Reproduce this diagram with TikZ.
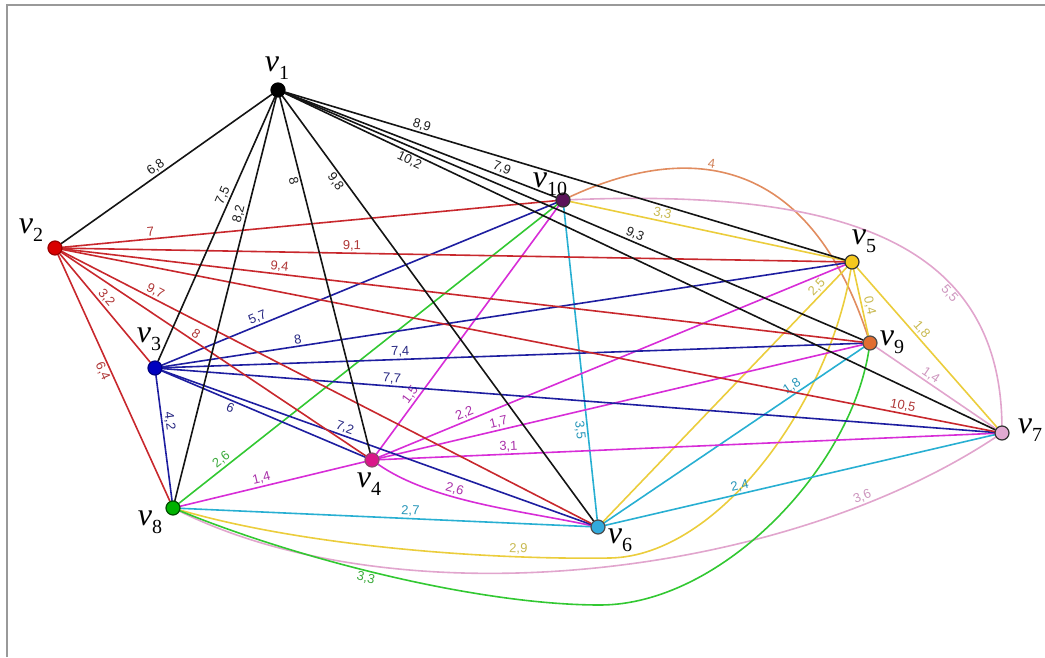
\documentclass[tikz,border=0pt]{standalone}
\usepackage{fontspec}
\usetikzlibrary{backgrounds}
\newfontfamily\vfont{Liberation Serif}
\newfontfamily\wfont{Liberation Sans}
\definecolor{cK}{RGB}{20,20,20}
\definecolor{cR}{RGB}{200,40,45}
\definecolor{cB}{RGB}{30,30,160}
\definecolor{cG}{RGB}{50,200,50}
\definecolor{cM}{RGB}{215,45,215}
\definecolor{cC}{RGB}{40,175,210}
\definecolor{cY}{RGB}{235,205,60}
\definecolor{cO}{RGB}{225,140,95}
\definecolor{cP}{RGB}{225,165,205}
\definecolor{lK}{RGB}{30,30,30}
\definecolor{lR}{RGB}{175,55,55}
\definecolor{lB}{RGB}{40,40,130}
\definecolor{lG}{RGB}{60,170,60}
\definecolor{lM}{RGB}{170,50,170}
\definecolor{lC}{RGB}{40,150,185}
\definecolor{lY}{RGB}{200,185,80}
\definecolor{lO}{RGB}{210,130,90}
\definecolor{lP}{RGB}{205,150,190}
\definecolor{fC}{RGB}{50,170,220}
\definecolor{fP}{RGB}{225,170,210}
\definecolor{fO}{RGB}{225,110,50}
\definecolor{fV}{RGB}{90,20,90}
\definecolor{fY}{RGB}{245,200,30}
\newcommand\vlab[1]{{\vfont\fontsize{32}{32}\selectfont\itshape ν\raisebox{-0.26em}{\upshape\fontsize{20}{20}\selectfont #1}}}
\tikzset{
  edge/.style={line width=1.6pt, line cap=round},
  eK/.style={edge, draw=cK}, eR/.style={edge, draw=cR}, eB/.style={edge, draw=cB},
  eG/.style={edge, draw=cG}, eM/.style={edge, draw=cM}, eC/.style={edge, draw=cC},
  eY/.style={edge, draw=cY}, eO/.style={edge, draw=cO}, eP/.style={edge, draw=cP},
  wl/.style={font=\wfont\fontsize{13}{13}\selectfont, inner sep=1.5pt, sloped},
  vd/.style={circle, inner sep=0pt, minimum size=14pt, line width=1.2pt},
  vl/.style={inner sep=0pt}
}
\begin{document}
\begin{tikzpicture}[x=1pt,y=-1pt]
\useasboundingbox (0,0) rectangle (1045,657);
\draw[gray!80, line width=1.5pt] (7,657) -- (7,5) -- (1045,5);
% vertices
\node[vd, fill=black, draw=black] (v1) at (278,90) {};
\node[vd, fill=red!85!black, draw=red!60!black] (v2) at (55,248) {};
\node[vd, fill=blue!75!black, draw=blue!50!black] (v3) at (155,368) {};
\node[vd, fill=magenta!90!black, draw=magenta!50!black] (v4) at (372,460) {};
\node[vd, fill=fY, draw=black!80] (v5) at (852,262) {};
\node[vd, fill=fC, draw=black!70] (v6) at (598,527) {};
\node[vd, fill=fP, draw=black!80] (v7) at (1002,433) {};
\node[vd, fill=green!70!black, draw=green!30!black] (v8) at (173,508) {};
\node[vd, fill=fO, draw=black!70] (v9) at (870,343) {};
\node[vd, fill=fV, draw=black!80] (v10) at (563,200) {};
% vertex labels
\node[vl] (l1) at (277,68) {\vlab{1}};
\node[vl] (l2) at (31,230) {\vlab{2}};
\node[vl] (l3) at (149,339) {\vlab{3}};
\node[vl] (l4) at (369,484) {\vlab{4}};
\node[vl] (l5) at (864,241) {\vlab{5}};
\node[vl] (l6) at (620,540) {\vlab{6}};
\node[vl] (l7) at (1030,430) {\vlab{7}};
\node[vl] (l8) at (150,522) {\vlab{8}};
\node[vl] (l9) at (892,342) {\vlab{9}};
\node[vl] (l10) at (550,184) {\vlab{10}};
\begin{pgfonlayer}{background}
% curves
\draw[eO] (v10) .. controls (660,155) and (800,130) .. node[wl,pos=0.45,above,text=lO]{4} (v9);
\draw[eP] (v10) .. controls (820,190) and (1000,230) .. node[wl,pos=0.7,below,text=lP]{5,5} (v7);
\draw[eP] (v8) .. controls (400,620) and (780,580) .. node[wl,pos=0.82,above,text=lP]{3,6} (v7);
\draw[eY] (v8) .. controls (300,545) and (480,560) .. node[wl,pos=0.78,above,text=lY]{2,9} (610,558) .. controls (720,556) and (830,400) .. (v5);
\draw[eG] (v8) .. controls (300,560) and (480,605) .. node[wl,pos=0.45,below,text=lG]{3,3} (600,605) .. controls (720,605) and (850,470) .. (v9);
\draw[eM] (v4) .. controls (432,502) and (524,511) .. node[wl,pos=0.38,above,text=lM]{2,6} (v6);
% pink, cyan, yellow, green, magenta straight
\draw[eP] (v9) -- node[wl,pos=0.42,above,text=lP]{1,4} (v7);
\draw[eC] (v6) -- node[wl,pos=0.29,below,text=lC]{3,5} (v10);
\draw[eC] (v8) -- node[wl,pos=0.56,above,text=lC]{2,7} (v6);
\draw[eC] (v6) -- node[wl,pos=0.74,above,text=lC]{1,8} (v9);
\draw[eC] (v6) -- node[wl,pos=0.35,above,text=lC]{2,4} (v7);
\draw[eY] (v10) -- node[wl,pos=0.33,above,text=lY]{3,3} (v5);
\draw[eY] (v5) -- node[wl,pos=0.1,above,text=lY]{2,5} (v6);
\draw[eY] (v5) -- node[wl,pos=0.57,above,text=lY]{0,4} (v9);
\draw[eY] (v5) -- node[wl,pos=0.42,above,text=lY]{1,8} (v7);
\draw[eG] (v8) -- node[wl,pos=0.125,above,text=lG]{2,6} (v10);
\draw[eM] (v4) -- node[wl,pos=0.55,above,text=lM]{1,4} (v8);
\draw[eM] (v4) -- node[wl,pos=0.22,above,text=lM]{1,5} (v10);
\draw[eM] (v4) -- node[wl,pos=0.19,above,text=lM]{2,2} (v5);
\draw[eM] (v4) -- node[wl,pos=0.25,above,text=lM]{1,7} (v9);
\draw[eM] (v4) -- node[wl,pos=0.21,above,text=lM]{3,1} (v7);
% blue
\draw[eB] (v3) -- node[wl,pos=0.25,above,text=lB]{5,7} (v10);
\draw[eB] (v3) -- node[wl,pos=0.2,above,text=lB]{8} (v5);
\draw[eB] (v3) -- node[wl,pos=0.34,above,text=lB]{7,4} (v9);
\draw[eB] (v3) -- node[wl,pos=0.275,above,text=lB]{7,7} (v7);
\draw[eB] (v3) -- node[wl,pos=0.35,below,text=lB]{6} (v4);
\draw[eB] (v3) -- node[wl,pos=0.42,above,text=lB]{7,2} (v6);
\draw[eB] (v3) -- node[wl,pos=0.37,above,text=lB]{4,2} (v8);
% red
\draw[eR] (v2) -- node[wl,pos=0.18,above,text=lR]{7} (v10);
\draw[eR] (v2) -- node[wl,pos=0.37,above,text=lR]{9,1} (v5);
\draw[eR] (v2) -- node[wl,pos=0.27,above,text=lR]{9,4} (v9);
\draw[eR] (v2) -- node[wl,pos=0.9,above,text=lR]{10,5} (v7);
\draw[eR] (v2) -- node[wl,pos=0.17,above,text=lR]{9,7} (v6);
\draw[eR] (v2) -- node[wl,pos=0.43,above,text=lR]{8} (v4);
\draw[eR] (v2) -- node[wl,pos=0.45,above,text=lR]{3,2} (v3);
\draw[eR] (v2) -- node[wl,pos=0.46,below,text=lR]{6,4} (v8);
% black
\draw[eK] (v1) -- node[wl,pos=0.53,above,text=lK]{6,8} (v2);
\draw[eK] (v1) -- node[wl,pos=0.385,above,text=lK]{7,5} (v3);
\draw[eK] (v1) -- node[wl,pos=0.294,above,text=lK]{8,2} (v8);
\draw[eK] (v1) -- node[wl,pos=0.23,below,text=lK]{8} (v4);
\draw[eK] (v1) -- node[wl,pos=0.19,below,text=lK]{9,8} (v6);
\draw[eK] (v1) -- node[wl,pos=0.24,above,text=lK]{8,9} (v5);
\draw[eK] (v1) -- node[wl,pos=0.79,above,text=lK]{7,9} (v10);
\draw[eK] (v1) -- node[wl,pos=0.18,below,text=lK]{10,2} (v7);
\draw[eK] (v1) -- node[wl,pos=0.6,above,text=lK]{9,3} (v9);
\end{pgfonlayer}
\end{tikzpicture}
\end{document}
